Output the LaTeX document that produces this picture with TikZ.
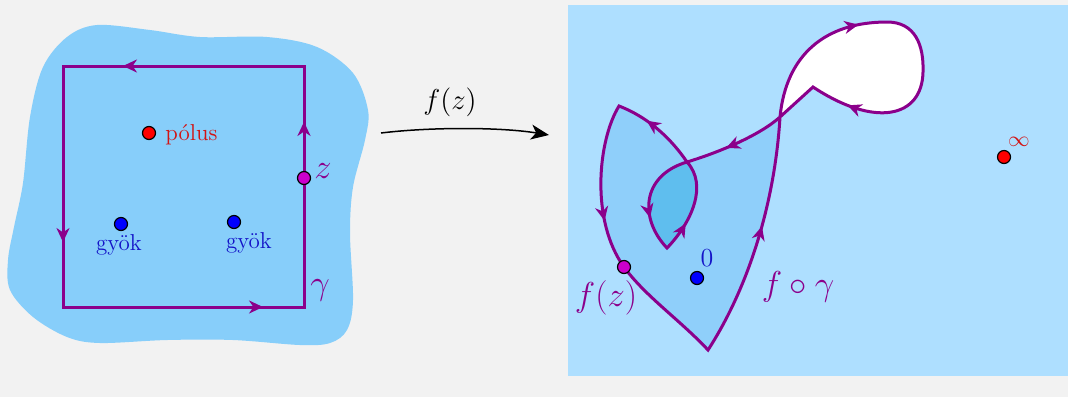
\RequirePackage{fix-cm}
\documentclass[tikz,border=0pt]{standalone}
\usetikzlibrary{arrows.meta,decorations.markings}
\definecolor{bgc}{RGB}{242,242,242}
\definecolor{blob}{RGB}{135,206,250}
\definecolor{panel}{RGB}{174,223,255}
\definecolor{regA}{RGB}{143,207,250}
\definecolor{regB}{RGB}{95,190,238}
\definecolor{pur}{RGB}{139,0,139}
\definecolor{mag}{RGB}{204,0,204}
\definecolor{redlab}{RGB}{210,20,20}
\definecolor{bluelab}{RGB}{20,20,200}
\tikzset{
  curve/.style={draw=pur, line width=1.5pt, line join=miter},
  ptip/.tip={Stealth[length=7pt,width=6.5pt,inset=2.2pt]},
  tipmark/.style={color=pur, line width=1.5pt, postaction={decorate},
    decoration={markings, mark=at position #1 with {\arrow{ptip}}}},
  dot/.style={circle, draw=black, line width=0.6pt, minimum size=6.5pt, inner sep=0pt},
  lbl/.style={inner sep=0pt},
}
\begin{document}
\begin{tikzpicture}[x=0.5pt,y=-0.5pt]
\fill[bgc] (0,0) rectangle (1068,397);
\useasboundingbox (0,0) rectangle (1068,397);
% left blob
\fill[blob] plot[smooth cycle, tension=0.55] coordinates {(67,37) (97,25) (150,30) (200,37) (267,37) (317,47) (353,73) (368,110) (365,140) (353,187) (350,233) (353,300) (347,330) (330,343) (300,345) (233,340) (167,340) (100,343) (67,337) (33,317) (10,290) (8,260) (14,227) (23,183) (30,117) (43,67)};
% square contour gamma
\draw[curve, postaction={decorate}, decoration={markings,
   mark=at position 0.1878 with {\arrow{ptip}},
   mark=at position 0.4326 with {\arrow{ptip}},
   mark=at position 0.7075 with {\arrow{ptip}},
   mark=at position 0.942 with {\arrow{ptip}}}]
  (304,66) -- (63,66) -- (63,307) -- (304,307) -- cycle;
\node[dot, fill=red] (pol) at (149,133) {};
\node[lbl, text=redlab, anchor=base west, font=\fontsize{11.5}{13}\selectfont] (poll) at (165,140) {pólus};
\node[dot, fill=blue] (g1) at (121,224) {};
\node[lbl, text=bluelab, anchor=base, font=\fontsize{11.5}{13}\selectfont] (g1l) at (119,250) {gyök};
\node[dot, fill=blue] (g2) at (234,222) {};
\node[lbl, text=bluelab, anchor=base, font=\fontsize{11.5}{13}\selectfont] (g2l) at (249,248) {gyök};
\node[dot, fill=mag] (z) at (304,178) {};
\node[lbl, text=pur, font=\fontsize{17.28}{20}\selectfont] (zl) at (323,171) {$z$};
\node[lbl, text=pur, font=\fontsize{17.28}{20}\selectfont] (gl) at (320,290) {$\gamma$};
% mapping arrow
\coordinate (s) at (381,133);
\coordinate (t) at (549,135);
\draw[line width=0.75pt, -{Stealth[length=9pt,width=7.5pt,inset=2.5pt]}] (s) .. controls (430,127) and (500,127) .. (t);
\node[lbl, font=\fontsize{14.4}{17}\selectfont] (fz) at (450,102) {$f(z)$};
% right panel
\fill[panel] (568,5) rectangle (1068,376);
\coordinate (A) at (619,106);
\coordinate (F) at (624,267);
\coordinate (B) at (708,350);
\coordinate (X1) at (780,117);
\coordinate (T) at (887,22);
\coordinate (Q) at (923,72);
\coordinate (C) at (813,87);
\coordinate (X2) at (687,162);
\coordinate (K) at (667,248);
\fill[regA] (A) .. controls (598,140) and (590,220) .. (F)
  .. controls (645,296) and (680,320) .. (B)
  .. controls (750,285) and (775,200) .. (X1)
  .. controls (786,55) and (825,22) .. (T)
  .. controls (915,22) and (924,45) .. (Q)
  .. controls (922,118) and (875,128) .. (C)
  -- (X1)
  .. controls (760,135) and (720,152) .. (X2)
  .. controls (640,176) and (640,220) .. (K)
  .. controls (692,222) and (708,185) .. (X2)
  .. controls (672,140) and (650,118) .. (A) -- cycle;
\fill[white] (X1) .. controls (786,55) and (825,22) .. (T)
  .. controls (915,22) and (924,45) .. (Q)
  .. controls (922,118) and (875,128) .. (C) -- cycle;
\fill[regB] (X2) .. controls (640,176) and (640,220) .. (K)
  .. controls (692,222) and (708,185) .. (X2) -- cycle;
\draw[curve] (A) .. controls (598,140) and (590,220) .. (F)
  .. controls (645,296) and (680,320) .. (B)
  .. controls (750,285) and (775,200) .. (X1)
  .. controls (786,55) and (825,22) .. (T)
  .. controls (915,22) and (924,45) .. (Q)
  .. controls (922,118) and (875,128) .. (C)
  -- (X1)
  .. controls (760,135) and (720,152) .. (X2)
  .. controls (640,176) and (640,220) .. (K)
  .. controls (692,222) and (708,185) .. (X2)
  .. controls (672,140) and (650,118) .. (A) -- cycle;
% arrow heads along f o gamma
\path[tipmark=0.7] (A) .. controls (598,140) and (590,220) .. (F);
\path[tipmark=0.55] (B) .. controls (750,285) and (775,200) .. (X1);
\path[tipmark=0.82] (X1) .. controls (786,55) and (825,22) .. (T);
\path[tipmark=0.72] (Q) .. controls (922,118) and (875,128) .. (C);
\path[tipmark=0.6] (X1) .. controls (760,135) and (720,152) .. (X2);
\path[tipmark=0.68] (X2) .. controls (640,176) and (640,220) .. (K);
\path[tipmark=0.32] (K) .. controls (692,222) and (708,185) .. (X2);
\path[tipmark=0.65] (X2) .. controls (672,140) and (650,118) .. (A);
% points
\node[dot, fill=mag] (fzp) at (624,267) {};
\node[lbl, text=pur, font=\fontsize{17.28}{20}\selectfont] (fzl) at (606,298) {$f(z)$};
\node[dot, fill=blue] (o) at (697,278) {};
\node[lbl, text=bluelab, font=\fontsize{13}{15}\selectfont] (ol) at (707,258) {$0$};
\node[lbl, text=pur, font=\fontsize{17.28}{20}\selectfont] (fgl) at (798,287) {$f\circ\gamma$};
\node[dot, fill=red] (inf) at (1004,157) {};
\node[lbl, text=redlab, font=\fontsize{10.8}{13}\selectfont] (infl) at (1019,142) {$\infty$};
\end{tikzpicture}
\end{document}
